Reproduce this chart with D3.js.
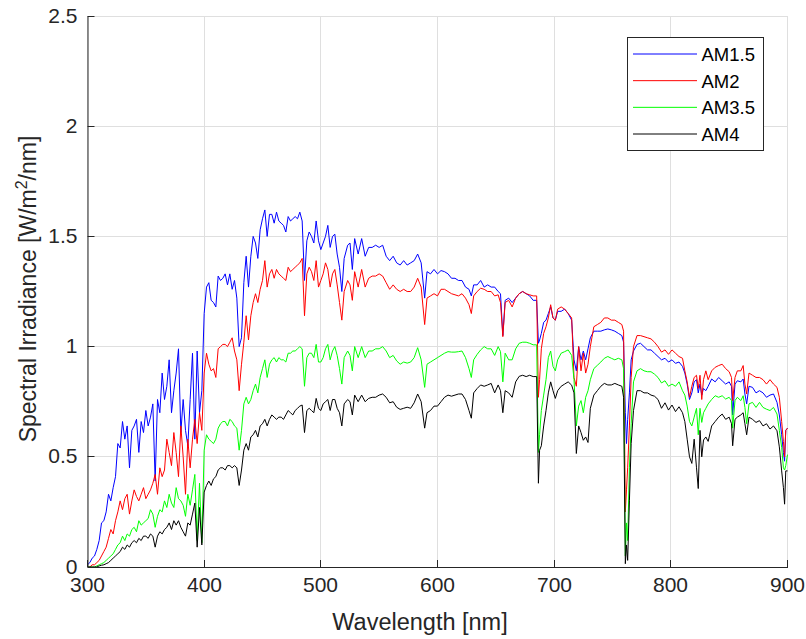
<!DOCTYPE html>
<html>
<head>
<meta charset="utf-8">
<script src="https://cdn.jsdelivr.net/npm/d3@7"></script>
<style>
  html, body { margin: 0; padding: 0; background: #ffffff; }
  svg { display: block; font-family: "Liberation Sans", Arial, Helvetica, sans-serif; }
</style>
</head>
<body>
<svg id="chart" width="806" height="639"></svg>
<script>
// Wavelength grid [nm]
const wavelength = [
  300, 302, 304, 306, 308, 310, 312, 314, 316, 318,
  320, 322, 324, 326, 328, 330, 332, 334, 336, 338,
  340, 342, 344, 346, 348, 350, 352, 354, 356, 358,
  360, 362, 364, 366, 368, 370, 372, 374, 376, 378,
  380, 382, 384, 386, 388, 390, 392, 394, 396, 398,
  400, 402, 404, 406, 408, 410, 412, 414, 416, 418,
  420, 422, 424, 426, 428, 430, 432, 434, 436, 438,
  440, 442, 444, 446, 448, 450, 452, 454, 456, 458,
  460, 462, 464, 466, 468, 470, 472, 474, 476, 478,
  480, 482, 484, 486, 488, 490, 492, 494, 496, 498,
  500, 502, 504, 506, 508, 510, 512, 514, 516, 518,
  520,
  523, 525, 527, 529, 532, 535, 538, 541, 544, 547,
  550, 553, 556, 559, 562, 565, 568, 571, 574, 577,
  580, 583, 586, 589, 591, 594, 597, 600, 603, 606,
  609, 612, 615, 618, 621, 624, 627, 629, 631, 634,
  637, 640, 643, 646, 649, 652, 654, 656, 658, 661,
  664, 667, 670, 673, 676, 679, 682, 685, 686.5, 687.5,
  689, 691, 693, 695, 697, 699, 701, 703, 706, 709,
  712, 715, 717, 719, 721, 723, 725, 727, 729, 731,
  734, 737, 740, 743, 746, 749, 752, 755, 758, 759.5,
  761, 762, 763, 764.5, 766, 768, 771, 774, 777, 780,
  783, 786, 789, 792, 795, 798, 801, 804, 807, 810,
  812, 814, 816, 818, 820, 822, 823.5, 825, 826.5, 828,
  830, 832, 835, 838, 841, 844, 847, 850, 852, 853,
  855, 857, 860, 862, 863.5, 865, 867, 870, 873, 876,
  879, 882, 885, 888, 891, 893, 895, 896.5, 897.5, 898.5,
  900
];

// Spectral irradiance [W/m^2/nm], air mass 1.5
const am15 = [
  0.01, 0.02, 0.04, 0.05, 0.08, 0.12, 0.20, 0.21, 0.25, 0.33,
  0.30, 0.36, 0.41, 0.56, 0.54, 0.66, 0.58, 0.64, 0.45, 0.62,
  0.64, 0.67, 0.52, 0.66, 0.61, 0.71, 0.64, 0.68, 0.74, 0.39,
  0.76, 0.70, 0.88, 0.76, 0.82, 0.94, 0.70, 0.80, 0.88, 0.99,
  0.61, 0.76, 0.62, 0.55, 0.76, 0.97, 0.58, 0.98, 0.70, 0.80,
  1.15, 1.27, 1.29, 1.21, 1.20, 1.18, 1.32, 1.30, 1.31, 1.33,
  1.28, 1.33, 1.26, 1.30, 1.22, 1.00, 1.04, 1.29, 1.41, 1.27,
  1.41, 1.50, 1.47, 1.40, 1.53, 1.58, 1.62, 1.50, 1.60, 1.60,
  1.56, 1.61, 1.57, 1.56, 1.55, 1.52, 1.59, 1.57, 1.58, 1.59,
  1.58, 1.61, 1.57, 1.30, 1.48, 1.52, 1.50, 1.47, 1.57, 1.48,
  1.44, 1.47, 1.50, 1.55, 1.45, 1.50, 1.51, 1.42, 1.36, 1.25,
  1.40,
  1.46, 1.47, 1.35, 1.49, 1.42, 1.49, 1.41, 1.45, 1.45, 1.46,
  1.45, 1.46, 1.41, 1.39, 1.41, 1.38, 1.37, 1.39, 1.37, 1.38,
  1.39, 1.42, 1.38, 1.22, 1.34, 1.33, 1.35, 1.33, 1.345, 1.34,
  1.33, 1.31, 1.31, 1.30, 1.30, 1.27, 1.26, 1.23, 1.28, 1.28,
  1.30, 1.27, 1.28, 1.27, 1.27, 1.25, 1.24, 1.05, 1.21, 1.22,
  1.20, 1.22, 1.24, 1.25, 1.24, 1.23, 1.21, 1.21, 1.015, 1.03,
  1.06, 1.11, 1.12, 1.15, 1.18, 1.13, 1.12, 1.16, 1.16, 1.17,
  1.15, 1.12, 0.94, 0.89, 1.00, 0.94, 0.98, 0.94, 0.99, 1.04,
  1.07, 1.07, 1.07, 1.076, 1.08, 1.076, 1.07, 1.06, 1.05, 1.02,
  0.70, 0.56, 0.67, 0.79, 0.94, 0.98, 1.01, 1.015, 1.00, 0.985,
  0.985, 0.97, 0.955, 0.94, 0.947, 0.93, 0.94, 0.924, 0.93, 0.91,
  0.88, 0.83, 0.76, 0.79, 0.84, 0.85, 0.79, 0.83, 0.78, 0.81,
  0.80, 0.82, 0.853, 0.84, 0.86, 0.845, 0.83, 0.84, 0.82, 0.69,
  0.83, 0.845, 0.84, 0.853, 0.785, 0.74, 0.82, 0.815, 0.79, 0.80,
  0.79, 0.77, 0.78, 0.785, 0.747, 0.69, 0.60, 0.52, 0.48, 0.62,
  0.63
];

// Air mass 2
const am2 = [
  0.00, 0.00, 0.01, 0.01, 0.02, 0.03, 0.05, 0.07, 0.09, 0.13,
  0.17, 0.15, 0.21, 0.25, 0.30, 0.26, 0.31, 0.33, 0.24, 0.30,
  0.35, 0.32, 0.30, 0.33, 0.36, 0.31, 0.33, 0.35, 0.38, 0.42,
  0.33, 0.45, 0.41, 0.44, 0.58, 0.52, 0.46, 0.61, 0.52, 0.41,
  0.64, 0.50, 0.33, 0.58, 0.45, 0.58, 0.67, 0.56, 0.70, 0.62,
  0.88, 0.97, 0.92, 0.89, 0.90, 0.86, 0.99, 1.00, 1.01, 1.01,
  1.00, 1.02, 1.04, 0.98, 0.94, 0.80, 0.92, 1.02, 1.14, 1.03,
  1.14, 1.20, 1.24, 1.20, 1.26, 1.30, 1.39, 1.27, 1.33, 1.35,
  1.31, 1.35, 1.33, 1.32, 1.31, 1.30, 1.36, 1.34, 1.35, 1.36,
  1.37, 1.38, 1.40, 1.14, 1.33, 1.36, 1.34, 1.30, 1.39, 1.27,
  1.30, 1.33, 1.38, 1.35, 1.27, 1.33, 1.35, 1.28, 1.20, 1.12,
  1.25,
  1.30, 1.28, 1.21, 1.34, 1.27, 1.35, 1.27, 1.31, 1.32, 1.32,
  1.33, 1.32, 1.29, 1.26, 1.28, 1.26, 1.25, 1.26, 1.25, 1.25,
  1.27, 1.31, 1.27, 1.10, 1.22, 1.23, 1.24, 1.23, 1.26, 1.26,
  1.25, 1.24, 1.235, 1.23, 1.24, 1.22, 1.19, 1.15, 1.23, 1.25,
  1.265, 1.26, 1.25, 1.25, 1.23, 1.235, 1.20, 1.045, 1.20, 1.21,
  1.18, 1.22, 1.24, 1.25, 1.24, 1.235, 1.23, 1.23, 0.77, 0.85,
  0.99, 1.06, 1.09, 1.13, 1.19, 1.13, 1.12, 1.17, 1.18, 1.17,
  1.15, 1.13, 0.86, 0.82, 1.00, 0.89, 0.97, 0.88, 0.92, 1.00,
  1.09, 1.10, 1.11, 1.13, 1.13, 1.12, 1.12, 1.11, 1.10, 1.07,
  0.25, 0.35, 0.45, 0.64, 0.86, 1.00, 1.05, 1.05, 1.045, 1.04,
  1.035, 1.02, 1.00, 0.975, 0.985, 0.965, 0.985, 0.97, 0.955, 0.947,
  0.89, 0.84, 0.77, 0.82, 0.86, 0.87, 0.81, 0.87, 0.76, 0.85,
  0.89, 0.85, 0.89, 0.906, 0.914, 0.92, 0.90, 0.886, 0.86, 0.755,
  0.86, 0.89, 0.89, 0.914, 0.83, 0.785, 0.88, 0.87, 0.86, 0.86,
  0.85, 0.83, 0.85, 0.83, 0.815, 0.77, 0.66, 0.57, 0.50, 0.62,
  0.63
];

// Air mass 3.5
const am35 = [
  0.00, 0.00, 0.00, 0.00, 0.005, 0.01, 0.015, 0.02, 0.03, 0.04,
  0.05, 0.06, 0.08, 0.10, 0.11, 0.14, 0.12, 0.15, 0.14, 0.17,
  0.18, 0.16, 0.21, 0.19, 0.20, 0.21, 0.22, 0.26, 0.24, 0.18,
  0.23, 0.26, 0.25, 0.30, 0.27, 0.33, 0.29, 0.27, 0.36, 0.31,
  0.30, 0.28, 0.23, 0.33, 0.28, 0.35, 0.42, 0.12, 0.38, 0.11,
  0.53, 0.60, 0.58, 0.57, 0.56, 0.58, 0.63, 0.65, 0.66, 0.66,
  0.64, 0.67, 0.66, 0.64, 0.63, 0.53, 0.62, 0.74, 0.77, 0.74,
  0.76, 0.80, 0.83, 0.79, 0.86, 0.90, 0.94, 0.86, 0.92, 0.94,
  0.95, 0.93, 0.95, 0.94, 0.94, 0.93, 0.97, 0.97, 0.98, 0.98,
  0.99, 1.00, 0.99, 0.82, 0.95, 0.97, 0.97, 0.95, 1.01, 0.93,
  0.93, 0.95, 0.99, 1.01, 0.94, 0.98, 1.00, 0.96, 0.90, 0.83,
  0.95,
  0.98, 0.96, 0.89, 1.00, 0.95, 1.00, 0.95, 0.98, 0.98, 0.99,
  0.99, 1.00, 0.98, 0.95, 0.96, 0.935, 0.92, 0.93, 0.925, 0.93,
  0.95, 0.995, 0.94, 0.815, 0.92, 0.93, 0.94, 0.95, 0.96, 0.97,
  0.977, 0.975, 0.975, 0.977, 0.98, 0.95, 0.90, 0.86, 0.94, 0.965,
  0.985, 1.00, 0.99, 0.99, 0.96, 1.00, 0.977, 0.84, 0.97, 0.94,
  0.94, 0.99, 1.015, 1.02, 1.02, 1.015, 1.008, 1.008, 0.52, 0.60,
  0.71, 0.78, 0.85, 0.95, 0.98, 0.91, 0.89, 0.94, 0.97, 0.977,
  0.985, 0.96, 0.85, 0.64, 0.73, 0.755, 0.70, 0.77, 0.80, 0.85,
  0.90, 0.915, 0.93, 0.947, 0.955, 0.947, 0.94, 0.947, 0.94, 0.90,
  0.05, 0.20, 0.12, 0.45, 0.65, 0.84, 0.89, 0.90, 0.89, 0.886,
  0.886, 0.875, 0.86, 0.835, 0.845, 0.82, 0.83, 0.82, 0.84, 0.80,
  0.78, 0.73, 0.66, 0.64, 0.68, 0.72, 0.60, 0.72, 0.656, 0.70,
  0.72, 0.74, 0.76, 0.777, 0.77, 0.777, 0.762, 0.77, 0.755, 0.63,
  0.755, 0.77, 0.755, 0.777, 0.724, 0.65, 0.74, 0.747, 0.724, 0.747,
  0.724, 0.716, 0.71, 0.724, 0.694, 0.62, 0.543, 0.45, 0.44, 0.46,
  0.51
];

// Air mass 4
const am4 = [
  0.00, 0.00, 0.00, 0.00, 0.00, 0.005, 0.008, 0.01, 0.015, 0.02,
  0.03, 0.04, 0.05, 0.06, 0.07, 0.09, 0.08, 0.10, 0.09, 0.11,
  0.12, 0.11, 0.13, 0.12, 0.14, 0.14, 0.13, 0.15, 0.14, 0.09,
  0.14, 0.16, 0.15, 0.17, 0.18, 0.20, 0.17, 0.21, 0.19, 0.21,
  0.18, 0.16, 0.14, 0.20, 0.19, 0.24, 0.29, 0.09, 0.27, 0.10,
  0.34, 0.37, 0.39, 0.37, 0.40, 0.41, 0.44, 0.45, 0.45, 0.44,
  0.46, 0.46, 0.45, 0.46, 0.45, 0.37, 0.44, 0.53, 0.56, 0.53,
  0.59, 0.60, 0.62, 0.59, 0.64, 0.65, 0.67, 0.64, 0.67, 0.69,
  0.68, 0.67, 0.68, 0.68, 0.67, 0.69, 0.71, 0.70, 0.69, 0.71,
  0.72, 0.73, 0.735, 0.61, 0.71, 0.72, 0.71, 0.70, 0.765, 0.72,
  0.71, 0.74, 0.75, 0.76, 0.71, 0.76, 0.76, 0.72, 0.70, 0.64,
  0.74,
  0.76, 0.75, 0.69, 0.78, 0.75, 0.78, 0.75, 0.765, 0.77, 0.77,
  0.78, 0.785, 0.77, 0.745, 0.75, 0.725, 0.715, 0.72, 0.725, 0.72,
  0.745, 0.785, 0.75, 0.63, 0.70, 0.71, 0.73, 0.73, 0.75, 0.77,
  0.78, 0.775, 0.78, 0.785, 0.785, 0.76, 0.71, 0.675, 0.79, 0.81,
  0.826, 0.82, 0.826, 0.833, 0.79, 0.826, 0.80, 0.70, 0.80, 0.79,
  0.77, 0.84, 0.865, 0.87, 0.864, 0.87, 0.864, 0.864, 0.38, 0.53,
  0.55, 0.64, 0.71, 0.79, 0.84, 0.80, 0.765, 0.80, 0.82, 0.83,
  0.84, 0.825, 0.79, 0.515, 0.64, 0.61, 0.575, 0.59, 0.565, 0.72,
  0.78, 0.80, 0.82, 0.833, 0.826, 0.826, 0.833, 0.826, 0.82, 0.77,
  0.015, 0.10, 0.03, 0.30, 0.56, 0.71, 0.80, 0.80, 0.79, 0.79,
  0.78, 0.775, 0.76, 0.72, 0.745, 0.712, 0.735, 0.705, 0.727, 0.70,
  0.66, 0.58, 0.50, 0.47, 0.58, 0.45, 0.356, 0.62, 0.50, 0.576,
  0.59, 0.57, 0.64, 0.66, 0.68, 0.694, 0.67, 0.68, 0.65, 0.55,
  0.67, 0.68, 0.69, 0.70, 0.65, 0.60, 0.68, 0.67, 0.656, 0.664,
  0.64, 0.65, 0.626, 0.64, 0.618, 0.545, 0.436, 0.36, 0.285, 0.436,
  0.436
];

const seriesNames = ["AM1.5", "AM2", "AM3.5", "AM4"];
const seriesValues = [am15, am2, am35, am4];
const seriesColors = ["#0000ff", "#ff0000", "#00ff00", "#000000"];

const xTicks = [300, 400, 500, 600, 700, 800, 900];
const yTicks = [0, 0.5, 1, 1.5, 2, 2.5];

const svg = d3.select("#chart");
const plot = { left: 87.5, right: 787.5, top: 16, bottom: 567 };
const axisColor = "#262626";
const gridColor = "#dfdfdf";
const fontFamily = '"Liberation Sans", Arial, Helvetica, sans-serif';

const x = d3.scaleLinear().domain([300, 900]).range([plot.left, plot.right]);
const y = d3.scaleLinear().domain([0, 2.5]).range([plot.bottom, plot.top]);
const crisp = v => Math.round(v - 0.5) + 0.5;

svg.append("rect").attr("width", 806).attr("height", 639).attr("fill", "#ffffff");

// grid
const grid = svg.append("g").attr("stroke", gridColor).attr("stroke-width", 1);
grid.selectAll("line.gx").data(xTicks).join("line")
  .attr("class", "gx")
  .attr("x1", d => crisp(x(d))).attr("x2", d => crisp(x(d)))
  .attr("y1", plot.top).attr("y2", plot.bottom);
grid.selectAll("line.gy").data(yTicks).join("line")
  .attr("class", "gy")
  .attr("x1", plot.left).attr("x2", plot.right)
  .attr("y1", d => crisp(y(d))).attr("y2", d => crisp(y(d)));

// spectra
svg.append("clipPath").attr("id", "plotClip")
  .append("rect")
  .attr("x", plot.left).attr("y", plot.top - 1)
  .attr("width", plot.right - plot.left + 1).attr("height", plot.bottom - plot.top + 1);

const line = d3.line()
  .x(d => x(d[0]))
  .y(d => y(d[1]));

const lines = svg.append("g").attr("clip-path", "url(#plotClip)");
seriesValues.forEach((vals, i) => {
  const pts = wavelength.map((w, k) => [w, vals[k]]);
  lines.append("path")
    .datum(pts)
    .attr("fill", "none")
    .attr("stroke", seriesColors[i])
    .attr("stroke-width", 1)
    .attr("stroke-linejoin", "round")
    .attr("d", line);
});

// axes
const xAxis = d3.axisBottom(x).tickValues(xTicks).tickFormat(d3.format("d"))
  .tickSizeInner(-7).tickSizeOuter(0).tickPadding(10);
const yAxis = d3.axisLeft(y).tickValues(yTicks).tickFormat(d => String(d))
  .tickSizeInner(-7).tickSizeOuter(0).tickPadding(10);

const gx = svg.append("g").attr("transform", `translate(0,${plot.bottom})`).call(xAxis);
const gy = svg.append("g").attr("transform", `translate(${plot.left},0)`).call(yAxis);

[gx, gy].forEach(g => {
  g.attr("font-family", fontFamily).attr("font-size", 21);
  g.select(".domain").attr("stroke", axisColor);
  g.selectAll(".tick line").attr("stroke", axisColor);
  g.selectAll(".tick text").attr("fill", axisColor);
});
gx.selectAll(".tick").attr("transform", d => `translate(${crisp(x(d))},0)`);
gy.selectAll(".tick").attr("transform", d => `translate(0,${crisp(y(d))})`);

// axis labels
svg.append("text")
  .attr("x", 420)
  .attr("y", 630)
  .attr("text-anchor", "middle")
  .attr("font-family", fontFamily)
  .attr("font-size", 23.5)
  .attr("fill", axisColor)
  .text("Wavelength [nm]");

const yLabel = svg.append("text")
  .attr("transform", "translate(36,289) rotate(-90)")
  .attr("text-anchor", "middle")
  .attr("font-family", fontFamily)
  .attr("font-size", 23)
  .attr("fill", axisColor);
yLabel.append("tspan").text("Spectral Irradiance [W/m");
yLabel.append("tspan").attr("font-size", 16).attr("dy", -9).text("2");
yLabel.append("tspan").attr("dy", 9).text("/nm]");

// legend
const legend = svg.append("g");
legend.append("rect")
  .attr("x", 627.5).attr("y", 37.5)
  .attr("width", 136).attr("height", 113)
  .attr("fill", "#ffffff")
  .attr("stroke", axisColor)
  .attr("stroke-width", 1);

const rowY = i => 54 + i * 26.67;
const entries = legend.selectAll("g.entry").data(seriesNames).join("g").attr("class", "entry");
entries.append("line")
  .attr("x1", 633).attr("x2", 697)
  .attr("y1", (d, i) => rowY(i)).attr("y2", (d, i) => rowY(i))
  .attr("stroke", (d, i) => seriesColors[i])
  .attr("stroke-width", 1);
entries.append("text")
  .attr("x", 701.5)
  .attr("y", (d, i) => rowY(i) + 7)
  .attr("font-family", fontFamily)
  .attr("font-size", 18.5)
  .attr("fill", "#000000")
  .text(d => d);
</script>
</body>
</html>
